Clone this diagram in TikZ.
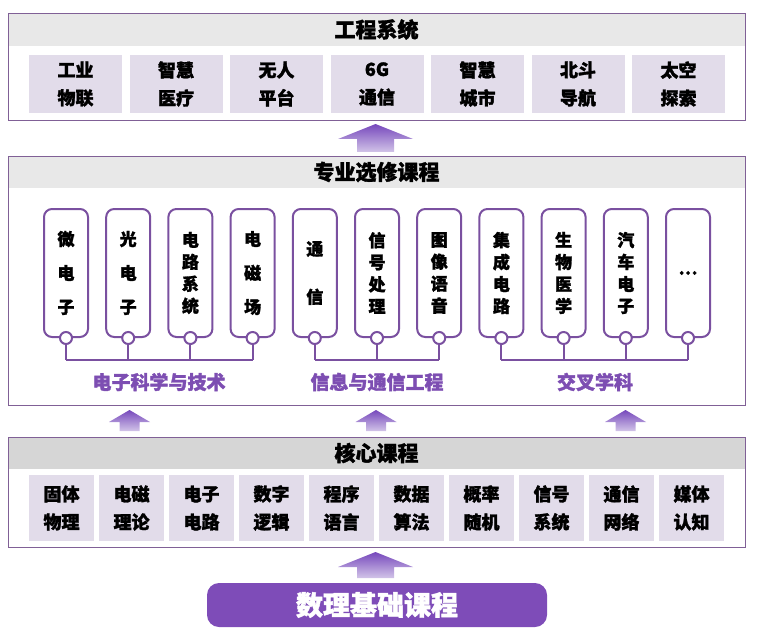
\documentclass[tikz,border=0pt]{standalone}
\usepackage{fontspec}
\setmainfont{Noto Sans CJK SC}[BoldFeatures={FakeBold=1.6}]
\usetikzlibrary{positioning}

\definecolor{panelline}{RGB}{128,96,150}
\definecolor{headgray}{RGB}{232,232,232}
\definecolor{coregray}{RGB}{214,214,214}
\definecolor{itemfill}{RGB}{226,220,234}
\definecolor{pillline}{RGB}{122,80,160}
\definecolor{grouptext}{RGB}{125,78,178}
\definecolor{basepurple}{RGB}{126,76,184}
\definecolor{arrowtop}{RGB}{118,72,188}
\definecolor{arrowbot}{RGB}{210,196,232}

\tikzset{
  panel/.style={draw=panelline,line width=0.9pt},
  title/.style={font=\bfseries\fontsize{21}{24}\selectfont},
  topitem/.style={fill=itemfill,minimum width=93pt,minimum height=58pt,inner sep=0pt,
    align=center,font=\bfseries\fontsize{18}{28}\selectfont},
  coreitem/.style={fill=itemfill,minimum width=64.5pt,minimum height=66pt,inner sep=0pt,
    align=center,font=\bfseries\fontsize{18}{28}\selectfont},
  pill/.style={draw=pillline,line width=2pt,rounded corners=8pt,fill=white,
    minimum width=44pt,minimum height=128pt,inner sep=0pt,align=center},
  dot/.style={circle,draw=pillline,line width=2pt,fill=white,minimum size=12pt,inner sep=0pt},
  bus/.style={draw=pillline,line width=2pt},
  group/.style={text=grouptext,font=\bfseries\fontsize{19}{22}\selectfont},
  % block arrow, sized by \headw, \shaftw, \headl and \arrl
  blockup/.pic={\shade[top color=arrowtop,bottom color=arrowbot]
    (0,0) -- (\headw,\headl) -- (\shaftw,\headl) -- (\shaftw,\arrl)
    -- (-\shaftw,\arrl) -- (-\shaftw,\headl) -- (-\headw,\headl) -- cycle;}
}

\begin{document}
\begin{tikzpicture}[x=1pt,y=-1pt]
\useasboundingbox (0,0) rectangle (765,639);

% engineering systems
\fill[headgray] (8,13) rectangle (745,46);
\draw[panel] (8,13) rectangle (745,120);
\node[title] (sys) at (376.5,29.5) {工程系统};
\foreach \i/\t in {1/工业\\物联,2/智慧\\医疗,3/无人\\平台,4/6G\\通信,
                   5/智慧\\城市,6/北斗\\导航,7/太空\\探索}
  \node[topitem] (t\i) at ({75.5+100.5*(\i-1)},84) {\t};

% electives
\fill[headgray] (8,156) rectangle (745,188);
\draw[panel] (8,156) rectangle (745,405);
\node[title] (elec) at (376.5,172) {专业选修课程};
\foreach \i/\t/\s in {1/{微\\电\\子}/34,2/{光\\电\\子}/34,3/{电\\路\\系\\统}/22,
                      4/{电\\磁\\场}/34,5/{通\\信}/48,6/{信\\号\\处\\理}/22,
                      7/{图\\像\\语\\音}/22,8/{集\\成\\电\\路}/22,9/{生\\物\\医\\学}/22,
                      10/{汽\\车\\电\\子}/22,11/…/22}
  \node[pill,font=\bfseries\fontsize{17}{\s}\selectfont] (e\i) at ({66+62.2*(\i-1)},273) {\t};

\coordinate (bus) at (0,360);
\foreach \i in {1,...,11}
  \draw[bus] (e\i.south) -- (e\i.south |- bus);
\draw[bus] (e1.south |- bus) -- (e4.south |- bus);
\draw[bus] (e5.south |- bus) -- (e7.south |- bus);
\draw[bus] (e8.south |- bus) -- (e11.south |- bus);
\foreach \i in {1,...,11}
  \node[dot] (d\i) at (e\i.south) {};

\node[group] (g1) at (159,382) {电子科学与技术};
\node[group] (g2) at (377,382) {信息与通信工程};
\node[group] (g3) at (595,382) {交叉学科};

% core courses
\fill[coregray] (8,437) rectangle (745,469);
\draw[panel] (8,437) rectangle (745,547);
\node[title] (core) at (376.5,453) {核心课程};
\foreach \i/\t in {1/固体\\物理,2/电磁\\理论,3/电子\\电路,4/数字\\逻辑,5/程序\\语言,
                   6/数据\\算法,7/概率\\随机,8/信号\\系统,9/通信\\网络,10/媒体\\认知}
  \node[coreitem] (c\i) at ({61.5+70*(\i-1)},508) {\t};

% foundation
\node[fill=basepurple,rounded corners=12pt,minimum width=340pt,minimum height=44pt,
  text=white,font=\bfseries\fontsize{27}{30}\selectfont] (base) at (377,605) {数理基础课程};

% arrows
\def\headw{37.5}\def\shaftw{18.5}\def\headl{15}\def\arrl{28}
\pic at (375.5,124) {blockup};
\def\arrl{26}
\pic at (375.5,552) {blockup};
\def\headw{20.5}\def\shaftw{10}\def\headl{12}\def\arrl{21}
\foreach \x in {129.5,376,625.5}
  \pic at (\x,410) {blockup};
\end{tikzpicture}
\end{document}
